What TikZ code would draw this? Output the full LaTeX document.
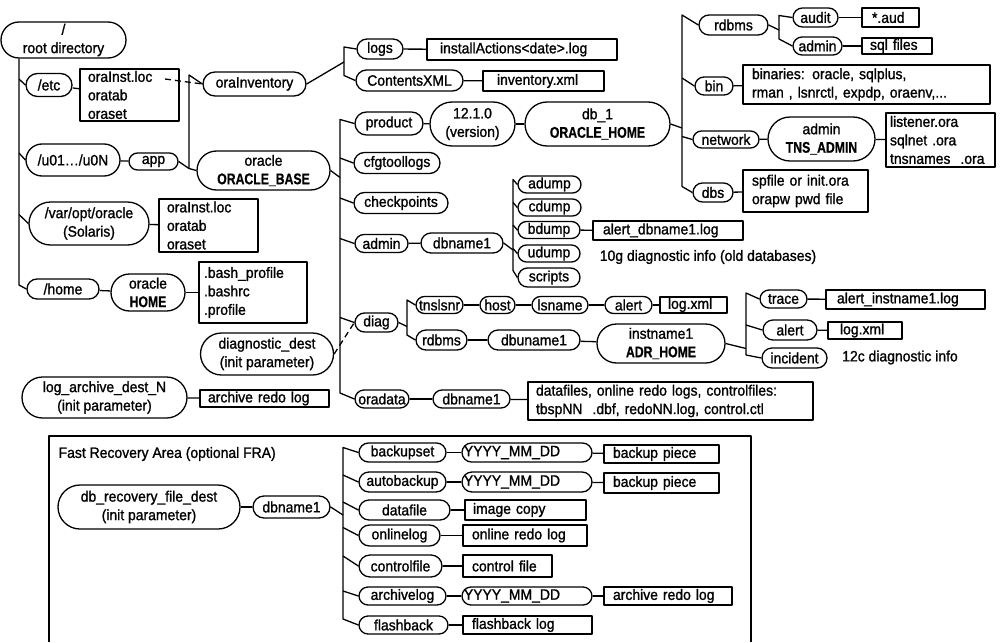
\documentclass[tikz,border=0pt]{standalone}
\usepackage{fontspec}
\setmainfont{Liberation Sans}[FakeStretch=0.93, FakeBold=1.2]
\newfontfamily\condfam{Liberation Sans}[FakeStretch=0.79, FakeBold=0.6]
\usetikzlibrary{calc}
\newcommand\dfont{\fontsize{15}{18.5}\selectfont}
\newcommand\bolder[1]{{\condfam\bfseries\fontsize{15.5}{18.5}\selectfont #1}}
\newcommand\mkpill[6]{\node[pill, minimum width=#4, minimum height=#5, rounded corners=#5/2] (#1) at (#2,#3) {#6};}
\newcommand\mkbox[7]{\pgfmathsetmacro\bxtw{#4-2*#6}\node[box, inner xsep=#6, text width=\bxtw pt, minimum width=#4, minimum height=#5] (#1) at (#2,#3) {#7};}
\newcommand\tbranch[3]{\draw ($(#2.west -| #1)+(0,-#3)$) -- (#2.west);}
\begin{document}
\begin{tikzpicture}[x=1pt,y=-1pt, line width=1.3pt, line join=round,
 pill/.style={draw, inner sep=0pt, align=center, font=\dfont},
 box/.style={draw, inner ysep=0pt, align=left, font=\dfont},
 lbl/.style={inner sep=0pt, font=\dfont},
 dashlink/.style={dash pattern=on 6pt off 4pt}]
\useasboundingbox (0,0) rectangle (1000,642);

% ---------- left part ----------
\mkpill{root}{63.5}{40}{125}{36}{/\\root directory}
\mkpill{etc}{49}{85}{46}{23}{/etc}
\mkpill{u01}{73}{160}{94}{32}{/u01…/u0N}
\mkpill{app}{153.5}{161.5}{49}{17}{app}
\mkpill{varopt}{89}{223.5}{120}{43}{/var/opt/oracle\\(Solaris)}
\mkpill{home}{63}{289}{72}{20}{/home}
\mkpill{orahome}{148}{292.5}{74}{37}{oracle\\\bolder{HOME}}
\mkpill{diagdest}{267}{354}{133}{42}{diagnostic\_dest\\(init parameter)}
\mkpill{logarch}{104.5}{397.5}{165}{41}{log\_archive\_dest\_N\\(init parameter)}
\mkpill{orainv}{254.5}{84}{103}{24}{oraInventory}
\mkpill{orabase}{263.5}{170.5}{133}{39}{oracle\\\bolder{ORACLE\_BASE}}

\mkbox{etcbox}{129.5}{95}{99}{52}{8}{oraInst.loc\\oratab\\oraset}
\mkbox{varbox}{208.5}{225.5}{99}{53}{8}{oraInst.loc\\oratab\\oraset}
\mkbox{bashbox}{253}{292.5}{108}{61}{5}{.bash\_profile\\.bashrc\\.profile}
\mkbox{archbox}{264.5}{398.5}{129}{17}{8}{archive redo log}

% ---------- middle ----------
\mkpill{logs}{380}{49}{46}{20}{logs}
\mkpill{contents}{409.5}{80.5}{107}{21}{ContentsXML}
\mkbox{instbox}{522}{49.5}{190}{21}{13}{installActions<date>.log}
\mkbox{invbox}{543.5}{81}{121}{20}{14}{inventory.xml}

\mkpill{product}{389}{123.5}{68}{23}{product}
\mkpill{version}{472.5}{124}{85}{44}{12.1.0\\(version)}
\mkpill{db1}{597.5}{124}{145}{44}{db\_1\\\bolder{ORACLE\_HOME}}
\mkpill{cfg}{397}{163}{86}{21}{cfgtoollogs}
\mkpill{checkpoints}{401}{203}{94}{21}{checkpoints}
\mkpill{adump}{549.5}{184.5}{63}{17}{adump}
\mkpill{cdump}{549.5}{207.5}{63}{17}{cdump}
\mkpill{bdump}{549}{230}{62}{17}{bdump}
\mkpill{udump}{549}{253.5}{62}{17}{udump}
\mkpill{scripts}{549}{277.5}{62}{19}{scripts}
\mkpill{admin}{381.5}{243.5}{53}{18}{admin}
\mkpill{dbnamea}{462}{243}{82}{20}{dbname1}
\mkbox{alertdbbox}{668}{230.5}{150}{19}{10}{alert\_dbname1.log}
\node[lbl] (info10g) at (708,257) {10g diagnostic info (old databases)};

\mkpill{diag}{376.5}{322.5}{43}{19}{diag}
\mkpill{tnslsnr}{439.5}{305}{47}{17}{tnslsnr}
\mkpill{host}{497.5}{305}{35}{17}{host}
\mkpill{lsname}{560}{305}{56}{17}{lsname}
\mkpill{alerta}{628.5}{305}{47}{17}{alert}
\mkbox{logxmla}{693.5}{305}{67}{16}{8}{log.xml}
\mkpill{rdbmsb}{441.5}{340}{51}{20}{rdbms}
\mkpill{dbuname}{534}{340}{92}{20}{dbuname1}
\mkpill{adrhome}{661}{343.5}{128}{39}{instname1\\\bolder{ADR\_HOME}}
\mkpill{oradata}{382}{399}{54}{18}{oradata}
\mkpill{dbnameb}{471.5}{399}{77}{18}{dbname1}
\mkbox{datafilesbox}{670.5}{401}{285}{38}{8}{datafiles, online redo logs, controlfiles:\\tbspNN\ \ .dbf, redoNN.log, control.ctl}

% ---------- right ----------
\mkpill{rdbmsa}{733.5}{25}{69}{20}{rdbms}
\mkpill{audit}{815.5}{17.5}{45}{19}{audit}
\mkpill{admina}{817.5}{46}{49}{18}{admin}
\mkbox{aud}{890.5}{17.5}{57}{19}{10}{*.aud}
\mkbox{sqlfiles}{897}{46}{70}{16}{8}{sql files}
\mkpill{bin}{714}{86}{38}{18}{bin}
\mkbox{binbox}{866.5}{84.5}{247}{39}{9}{binaries: oracle, sqlplus,\\rman , lsnrctl, expdp, oraenv,...}
\mkpill{network}{726}{139.5}{66}{17}{network}
\mkpill{tnsadmin}{821.5}{139}{107}{44}{admin\\\bolder{TNS\_ADMIN}}
\mkbox{listenerbox}{940.5}{140}{109}{54}{4}{listener.ora\\sqlnet .ora\\tnsnames\ \ .ora}
\mkpill{dbs}{713}{192.5}{40}{19}{dbs}
\mkbox{spfilebox}{805.5}{191}{125}{42}{9}{spfile or init.ora\\orapw pwd file}
\mkpill{trace}{783.5}{299}{47}{18}{trace}
\mkpill{alertb}{790}{330}{54}{20}{alert}
\mkpill{incident}{794.5}{358}{65}{20}{incident}
\mkbox{alertinst}{905.5}{299.5}{159}{19}{11}{alert\_instname1.log}
\mkbox{logxmlb}{865}{330.5}{74}{17}{12}{log.xml}
\node[lbl] (info12c) at (900,357.5) {12c diagnostic info};

% ---------- FRA ----------
\draw (49,642) -- (49,436) -- (751,436) -- (751,642);
\node[lbl, anchor=west] (fratitle) at (58,454) {Fast Recovery Area (optional FRA)};
\mkpill{recdest}{149}{507}{182}{44}{db\_recovery\_file\_dest\\(init parameter)}
\mkpill{dbnamec}{291.5}{507}{77}{22}{dbname1}
\mkpill{backupset}{402.5}{452.5}{87}{19}{backupset}
\mkpill{yyyya}{527}{452.5}{130}{19}{YYYY\_MM\_DD\hspace{30pt}}
\mkpill{autobackup}{402.5}{482}{87}{20}{autobackup}
\mkpill{yyyyb}{527}{482}{130}{20}{YYYY\_MM\_DD\hspace{30pt}}
\mkpill{datafile}{404.5}{510}{91}{20}{datafile}
\mkpill{onlinelog}{399.5}{535.5}{81}{21}{onlinelog}
\mkpill{controlfile}{400.5}{566}{83}{22}{controlfile}
\mkpill{archivelog}{402.5}{596}{87}{18}{archivelog}
\mkpill{yyyyc}{527}{596}{130}{18}{YYYY\_MM\_DD\hspace{30pt}}
\mkpill{flashback}{403.5}{625}{89}{18}{flashback}
\mkbox{backupa}{661.5}{454}{115}{18}{9}{backup piece}
\mkbox{backupb}{661.5}{483}{115}{20}{9}{backup piece}
\mkbox{imagecopy}{525.5}{510}{121}{20}{8}{image copy}
\mkbox{onlineredo}{525}{535.5}{124}{21}{9}{online redo log}
\mkbox{controlbox}{507.5}{566}{89}{22}{9}{control file}
\mkbox{archredob}{668}{596}{128}{18}{9}{archive redo log}
\mkbox{flashlog}{527.5}{625}{129}{18}{9}{flashback log}

% ---------- connectors ----------
\coordinate (T1) at (19,0);
\draw (root.south -| T1) -- ($(home.west -| T1)+(0,-4)$) -- (home.west);
\tbranch{T1}{etc}{6}
\tbranch{T1}{u01}{7}
\tbranch{T1}{varopt}{9}
\draw (etc) -- (etcbox);
\draw (u01) -- (app);
\draw (varopt) -- (varbox);
\draw (home) -- (orahome);
\draw (orahome) -- (bashbox);
\draw (logarch) -- (archbox);
\coordinate (ds) at (165,79);
\draw[dashlink] (ds) -- (orainv.west);

\coordinate (T2) at (189,0);
\draw (orainv.west) -- ($(orainv.west -| T2)+(0,-9)$) -- ($(orabase.west -| T2)+(0,-2)$) -- (orabase.west);
\draw (app.east) -- ($(orabase.west -| T2)+(0,-2)$);

\coordinate (T3) at (344,0);
\draw (orainv.east) -- ($(orainv.east -| T3)+(0,-22)$);
\draw (logs.west) -- ($(logs.west -| T3)+(0,-2)$) -- ($(contents.west -| T3)+(0,-5)$) -- (contents.west);
\draw (logs) -- (instbox);
\draw (contents) -- (invbox);

\coordinate (T4) at (340,0);
\draw (orabase.east) -- ($(orabase.east -| T4)+(0,7)$);
\draw (product.west) -- ($(product.west -| T4)+(0,-4)$) -- ($(oradata.west -| T4)+(0,-6)$) -- (oradata.west);
\tbranch{T4}{cfg}{5}
\tbranch{T4}{checkpoints}{5}
\tbranch{T4}{admin}{5}
\tbranch{T4}{diag}{5}
\draw (product) -- (version);
\draw (version) -- (db1);

\coordinate (T5) at (682,0);
\draw (db1.east) -- ($(db1.east -| T5)+(0,4)$);
\draw (rdbmsa.west) -- ($(rdbmsa.west -| T5)+(0,-10)$) -- ($(dbs.west -| T5)+(0,-6)$) -- (dbs.west);
\tbranch{T5}{bin}{8}
\tbranch{T5}{network}{3}
\draw (bin) -- (binbox);
\draw (network) -- (tnsadmin);
\draw (tnsadmin) -- (listenerbox);
\draw (dbs) -- (spfilebox);

\coordinate (T6) at (779,0);
\draw (rdbmsa.east) -- ($(rdbmsa.east -| T6)+(0,5)$);
\draw (audit.west) -- ($(audit.west -| T6)+(0,-2)$) -- ($(admina.west -| T6)+(0,-7)$) -- (admina.west);
\draw (audit) -- (aud);
\draw (admina) -- (sqlfiles);

\coordinate (T7) at (513,0);
\draw (admin) -- (dbnamea);
\draw (dbnamea.east) -- ($(dbnamea.east -| T7)+(0,7)$);
\draw (adump.west) -- ($(adump.west -| T7)+(0,-5)$) -- ($(scripts.west -| T7)+(0,-7)$) -- (scripts.west);
\tbranch{T7}{cdump}{5}
\tbranch{T7}{bdump}{5}
\tbranch{T7}{udump}{5}
\draw (bdump) -- (alertdbbox);

\coordinate (T8) at (407,0);
\draw (diag.east) -- ($(diag.east -| T8)+(0,4)$);
\draw (tnslsnr.west) -- ($(tnslsnr.west -| T8)+(0,-5)$) -- ($(rdbmsb.west -| T8)+(0,-5)$) -- (rdbmsb.west);
\draw (tnslsnr) -- (host);
\draw (host) -- (lsname);
\draw (lsname) -- (alerta);
\draw (alerta) -- (logxmla);
\draw (rdbmsb) -- (dbuname);
\draw (dbuname) -- (adrhome);
\draw[dashlink] (diagdest.east) -- (diag.west);

\coordinate (T10) at (746,0);
\draw (adrhome.east) -- ($(adrhome.east -| T10)+(0,5)$);
\draw (trace.west) -- ($(trace.west -| T10)+(0,-6)$) -- ($(incident.west -| T10)+(0,-3)$) -- (incident.west);
\tbranch{T10}{alertb}{5}
\draw (trace) -- (alertinst);
\draw (alertb) -- (logxmlb);

\draw (oradata) -- (dbnameb);
\draw (dbnameb) -- (datafilesbox);

\draw (recdest) -- (dbnamec);
\coordinate (T12) at (343,0);
\draw (dbnamec.east) -- ($(dbnamec.east -| T12)+(0,8)$);
\draw (backupset.west) -- ($(backupset.west -| T12)+(0,-5)$) -- ($(flashback.west -| T12)+(0,-6)$) -- (flashback.west);
\tbranch{T12}{autobackup}{7}
\tbranch{T12}{datafile}{8}
\tbranch{T12}{onlinelog}{8}
\tbranch{T12}{controlfile}{10}
\tbranch{T12}{archivelog}{5}
\draw (backupset) -- (yyyya);
\draw (yyyya) -- (backupa);
\draw (autobackup) -- (yyyyb);
\draw (yyyyb) -- (backupb);
\draw (datafile) -- (imagecopy);
\draw (onlinelog) -- (onlineredo);
\draw (controlfile) -- (controlbox);
\draw (archivelog) -- (yyyyc);
\draw (yyyyc) -- (archredob);
\draw (flashback) -- (flashlog);
\end{tikzpicture}
\end{document}
